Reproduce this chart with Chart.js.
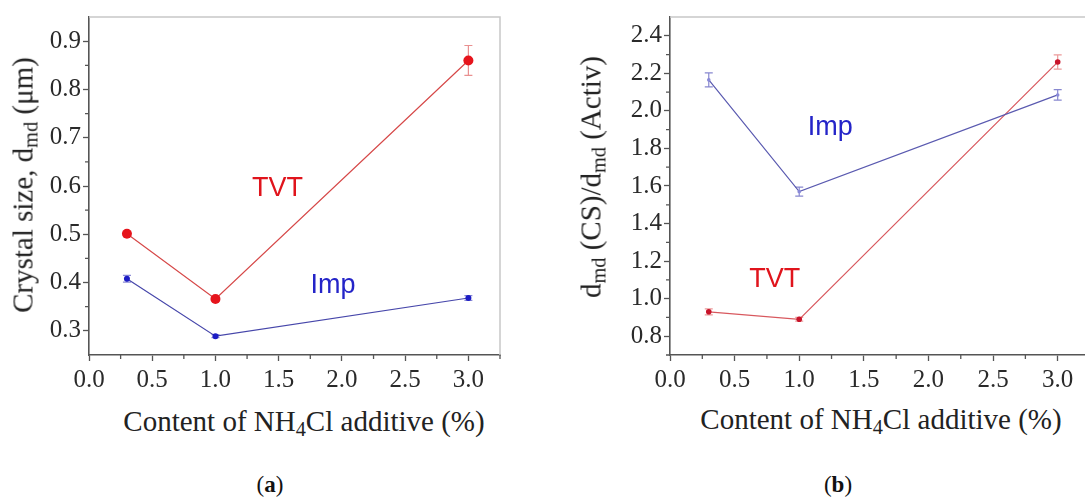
<!DOCTYPE html>
<html><head><meta charset="utf-8">
<script src="https://cdn.jsdelivr.net/npm/chart.js@4.4.0/dist/chart.umd.min.js"></script>
<style>
html,body{margin:0;padding:0;background:#fff;width:1085px;height:499px;overflow:hidden;position:relative;}
.wrap{position:absolute;top:0;height:400px;}
#wa{left:0;width:540px;}
#wb{left:560px;width:560px;}
.t{position:absolute;font-family:"Liberation Serif",serif;font-size:29px;color:#222;white-space:nowrap;line-height:1;}
.t sub{font-size:0.7em;vertical-align:-0.25em;line-height:0;}
.yt{transform:translate(-50%,-50%) rotate(-90deg);}
.xt{transform:translate(-50%,-50%);}
.pl{position:absolute;font-family:"Liberation Serif",serif;font-size:23px;color:#111;transform:translate(-50%,-50%);white-space:nowrap;line-height:1;}
</style></head>
<body>
<div class="wrap" id="wa"><canvas id="ca"></canvas></div>
<div class="wrap" id="wb"><canvas id="cb"></canvas></div>
<div class="t yt" style="left:23px;top:185px;">Crystal size, d<sub>md</sub> (μm)</div>
<div class="t yt" style="left:591px;top:177px;">d<sub>md</sub> (CS)/d<sub>md</sub> (Activ)</div>
<div class="t xt" style="left:304px;top:421px;">Content of NH<sub>4</sub>Cl additive (%)</div>
<div class="t xt" style="left:881px;top:419px;">Content of NH<sub>4</sub>Cl additive (%)</div>
<div class="pl" style="left:270px;top:484px;">(<b>a</b>)</div>
<div class="pl" style="left:838px;top:484px;">(<b>b</b>)</div>
<script>
// ---- data ----
const xCats = [0.3, 1.0, 3.0];
const tvtA = [0.501, 0.366, 0.86];
const tvtErrA = [0.004, 0.004, 0.031];
const impA = [0.408, 0.289, 0.368];
const impErrA = [0.007, 0.003, 0.005];
const tvtB = [0.93, 0.89, 2.26];
const tvtErrB = [0.016, 0.01, 0.038];
const impB = [2.165, 1.57, 2.085];
const impErrB = [0.037, 0.024, 0.028];
const xTicks = [0, 0.5, 1.0, 1.5, 2.0, 2.5, 3.0];
const xMinor = [0.25, 0.75, 1.25, 1.75, 2.25, 2.75, 3.25];
const yTicksA = [0.3, 0.4, 0.5, 0.6, 0.7, 0.8, 0.9];
const yMinorA = [0.35, 0.45, 0.55, 0.65, 0.75, 0.85];
const yTicksB = [0.8, 1.0, 1.2, 1.4, 1.6, 1.8, 2.0, 2.2, 2.4];
const yMinorB = [0.7, 0.9, 1.1, 1.3, 1.5, 1.7, 1.9, 2.1, 2.3];
const notesA = [{text:'TVT', x:1.49, y:0.595, color:'#e0141c'}, {text:'Imp', x:1.93, y:0.394, color:'#2424c8'}];
const notesB = [{text:'Imp', x:1.24, y:1.913, color:'#2424c8'}, {text:'TVT', x:0.81, y:1.103, color:'#e0141c'}];

const AX = '#555';
const TICKFONT = {family:"'Liberation Serif', 'Times New Roman', serif", size:25};
const errPlugin = {
  id:'err',
  beforeDatasetsDraw(chart){
    const ctx = chart.ctx, ys = chart.scales.y;
    chart.data.datasets.forEach((ds,i)=>{
      if(!ds.errs) return;
      const meta = chart.getDatasetMeta(i);
      ctx.save(); ctx.strokeStyle = ds.errColor; ctx.lineWidth = 1.2;
      meta.data.forEach((pt,j)=>{
        const v = ds.data[j].y, e = ds.errs[j];
        const y1 = ys.getPixelForValue(v+e), y2 = ys.getPixelForValue(v-e), x = pt.x;
        ctx.beginPath();
        ctx.moveTo(x,y1); ctx.lineTo(x,y2);
        ctx.moveTo(x-4,y1); ctx.lineTo(x+4,y1);
        ctx.moveTo(x-4,y2); ctx.lineTo(x+4,y2);
        ctx.stroke();
      });
      ctx.restore();
    });
  }
};
function framePlugin(xm, ym, notes){
  return {
    id:'frame',
    afterDraw(chart){
      const ctx = chart.ctx, a = chart.chartArea, xs = chart.scales.x, ys = chart.scales.y;
      ctx.save();
      ctx.strokeStyle = '#c8c8c8'; ctx.lineWidth = 1.5;
      ctx.beginPath(); ctx.moveTo(a.left, a.top); ctx.lineTo(a.right, a.top); ctx.lineTo(a.right, a.bottom); ctx.stroke();
      ctx.strokeStyle = AX; ctx.lineWidth = 1.3;
      ctx.beginPath();
      xm.forEach(v=>{ const x = xs.getPixelForValue(v); ctx.moveTo(x, a.bottom); ctx.lineTo(x, a.bottom+4); });
      ym.forEach(v=>{ const y = ys.getPixelForValue(v); ctx.moveTo(a.left, y); ctx.lineTo(a.left-4, y); });
      ctx.stroke();
      ctx.font = '27px "Liberation Sans", Arial, sans-serif';
      ctx.textAlign = 'center'; ctx.textBaseline = 'middle';
      notes.forEach(n=>{ ctx.fillStyle = n.color; ctx.fillText(n.text, xs.getPixelForValue(n.x), ys.getPixelForValue(n.y)); });
      ctx.restore();
    }
  };
}
function pts(ys){ return xCats.map((x,i)=>({x:x, y:ys[i]})); }
function makeChart(id, opts){
  return new Chart(document.getElementById(id), {
    type:'line',
    data:{datasets:opts.datasets},
    options:{
      responsive:true, maintainAspectRatio:false, animation:false,
      layout:{padding:{left:0, top:14, right:opts.padRight, bottom:0}},
      plugins:{legend:{display:false}, tooltip:{enabled:false}},
      scales:{
        x:{type:'linear', min:0, max:3.25,
          afterBuildTicks:s=>{ s.ticks = xTicks.map(v=>({value:v})); },
          afterFit:s=>{ s.height = 45; },
          grid:{drawOnChartArea:false, drawTicks:true, tickLength:6, tickColor:AX, tickWidth:1.3},
          border:{display:true, color:AX, width:1.6},
          ticks:{padding:4, color:'#2a2a2a', autoSkip:false, maxRotation:0,
            font:TICKFONT, callback:v=>Number(v).toFixed(1)}
        },
        y:{type:'linear', min:opts.ymin, max:opts.ymax,
          afterBuildTicks:s=>{ s.ticks = opts.yTicks.map(v=>({value:v})); },
          afterFit:s=>{ s.width = opts.yWidth; },
          grid:{drawOnChartArea:false, drawTicks:true, tickLength:6, tickColor:AX, tickWidth:1.3},
          border:{display:true, color:AX, width:1.6},
          ticks:{padding:2, color:'#2a2a2a', autoSkip:false,
            font:TICKFONT, callback:v=>Number(v).toFixed(1)}
        }
      }
    },
    plugins:[errPlugin, framePlugin(xMinor, opts.yMinor, opts.notes)]
  });
}
makeChart('ca', {
  padRight:40, yWidth:89, ymin:0.25, ymax:0.95, yTicks:yTicksA, yMinor:yMinorA, notes:notesA,
  datasets:[
    {label:'TVT', data:pts(tvtA), errs:tvtErrA, errColor:'#e99090', borderColor:'#d64848', borderWidth:1.2,
      pointRadius:5, pointBackgroundColor:'#e6141c', pointBorderWidth:0, tension:0},
    {label:'Imp', data:pts(impA), errs:impErrA, errColor:'#8a8ad6', borderColor:'#4646aa', borderWidth:1.2,
      pointRadius:3, pointBackgroundColor:'#1c1cc4', pointBorderWidth:0, tension:0}
  ]
});
makeChart('cb', {
  padRight:30, yWidth:110, ymin:0.7, ymax:2.5, yTicks:yTicksB, yMinor:yMinorB, notes:notesB,
  datasets:[
    {label:'Imp', data:pts(impB), errs:impErrB, errColor:'#8888d0', borderColor:'#5a5ab0', borderWidth:1.2,
      pointRadius:1.8, pointBackgroundColor:'#8a8ad8', pointBorderWidth:0, tension:0},
    {label:'TVT', data:pts(tvtB), errs:tvtErrB, errColor:'#ec9a9a', borderColor:'#d8585e', borderWidth:1.2,
      pointRadius:2.8, pointBackgroundColor:'#c8142a', pointBorderWidth:0, tension:0}
  ]
});
</script>
</body></html>
